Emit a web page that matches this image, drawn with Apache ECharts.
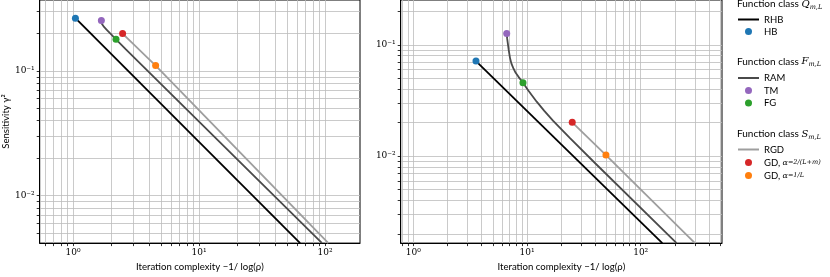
<!DOCTYPE html>
<html><head><meta charset="utf-8">
<script src="https://cdn.jsdelivr.net/npm/echarts@6/dist/echarts.min.js"></script>
<style>html,body{margin:0;padding:0;background:#fff}#c{width:830px;height:277px}</style>
</head><body><div id="c"></div>
<script>
// ---------- data (left panel) ----------
const leftRHB = [[1.043, 0.2656], [63.4, 0.00417]];
const leftHB  = [[1.043, 0.2656]];
const leftRAM = [[1.676, 0.254], [1.69, 0.240], [1.76, 0.226], [1.85, 0.2145], [1.97, 0.2005], [2.19, 0.180], [2.60, 0.151], [94.2, 0.00418]];
const leftTM  = [[1.676, 0.254]];
const leftFG  = [[2.19, 0.180]];
const leftRGD = [[2.47, 0.200], [4.52, 0.1108], [106.2, 0.00417]];
const leftGD1 = [[2.47, 0.200]];
const leftGD2 = [[4.52, 0.1108]];
// ---------- data (right panel) ----------
const rightRHB = [[3.56, 0.0714], [155, 0.00165]];
const rightHB  = [[3.56, 0.0714]];
const rightRAM = [[6.63, 0.1265], [6.70, 0.113], [6.77, 0.1047], [6.9, 0.0905], [7.08, 0.0767], [7.3, 0.0677], [7.58, 0.0617], [7.95, 0.0560], [8.39, 0.0518], [9.22, 0.04555], [10.27, 0.03885], [12.17, 0.03081], [14.2, 0.02549], [17.0, 0.02071], [23.9, 0.01448], [40.0, 0.008575], [207, 0.00165]];
const rightTM  = [[6.63, 0.1265]];
const rightFG  = [[9.22, 0.04555]];
const rightRGD = [[25.0, 0.0201], [49.5, 0.0102], [300, 0.00165]];
const rightGD1 = [[25.0, 0.0201]];
const rightGD2 = [[49.5, 0.0102]];
// ---------- ticks ----------
const xMajor = [1, 10, 100];
const yMajor = [0.01, 0.1];
const mantissas = [1, 2, 3, 4, 5, 6, 7, 8, 9];
const decadeExps = [-3, -2, -1, 0, 1, 2];
const allLogTicks = [];
decadeExps.forEach(e => mantissas.forEach(m => allLogTicks.push(+(m * Math.pow(10, e)).toPrecision(3))));

const legendNames = {
  RHB: 'RHB', HB: 'HB', RAM: 'RAM', TM: 'TM', FG: 'FG', RGD: 'RGD',
  GD1: '{t|GD, }{a|α}{f|=2/(L+m)}', GD2: '{t|GD, }{a|α}{f|=1/L}'
};

const SUP = {'-': '⁻', '0': '⁰', '1': '¹', '2': '²', '3': '³'};
function fmt(v) {
  const e = Math.round(Math.log10(v));
  return '10' + String(e).split('').map(c => SUP[c]).join('');
}

const C = {RHB: '#000000', RAM: '#4a4a4a', RGD: '#9e9e9e', HB: '#1f77b4', TM: '#9467bd', FG: '#2ca02c', GD1: '#d62728', GD2: '#ff7f0e'};
const gridCol = '#bdbdbd';
const nameFont = 'Lato';

function xAxis(gi, min, max) {
  return {
    type: 'log', logBase: 10, gridIndex: gi, min: min, max: max,
    axisLine: {show: true, lineStyle: {color: '#000', width: 1}},
    axisTick: {show: true, length: 3, customValues: allLogTicks.filter(v => v >= min && v <= max), lineStyle: {color: '#000', width: 0.8}},
    axisLabel: {customValues: xMajor.filter(v => v >= min && v <= max), formatter: fmt, fontFamily: 'DejaVu Serif', fontSize: 9, color: '#000', margin: 5},
    splitLine: {show: true, lineStyle: {color: gridCol, width: 0.8}},
    name: 'Iteration complexity −1/ log(ρ)', nameLocation: 'middle', nameGap: 18,
    nameTextStyle: {fontFamily: nameFont, fontSize: 9.6, color: '#000'}
  };
}
function yAxis(gi, min, max, withName) {
  return {
    type: 'log', logBase: 10, gridIndex: gi, min: min, max: max,
    axisLine: {show: true, lineStyle: {color: '#000', width: 1}},
    axisTick: {show: true, length: 3, customValues: allLogTicks.filter(v => v >= min && v <= max), lineStyle: {color: '#000', width: 0.8}},
    axisLabel: {customValues: yMajor.filter(v => v >= min && v <= max), formatter: fmt, fontFamily: 'DejaVu Serif', fontSize: 9, color: '#000', margin: 5},
    splitLine: {show: true, lineStyle: {color: gridCol, width: 0.8}},
    name: withName ? 'Sensitivity γ²' : '', nameLocation: 'middle', nameGap: 24, nameRotate: 90,
    nameTextStyle: {fontFamily: nameFont, fontSize: 9.6, color: '#000'}
  };
}

function lineS(name, data, gi) {
  return {type: 'line', name: name, data: data, xAxisIndex: gi, yAxisIndex: gi, showSymbol: false, symbol: 'none',
    lineStyle: {color: C[name], width: 1.8}, itemStyle: {color: C[name]}, z: 3, animation: false, clip: true};
}
function dotS(name, data, gi) {
  return {type: 'scatter', name: name, data: data, xAxisIndex: gi, yAxisIndex: gi, symbol: 'circle', symbolSize: 7,
    itemStyle: {color: C[name], opacity: 1}, z: 5, animation: false};
}

const legendText = {
  color: '#000', fontFamily: nameFont, fontSize: 9.5,
  rich: {
    t: {fontFamily: nameFont, fontSize: 9.5, color: '#000'},
    a: {fontFamily: 'DejaVu Serif', fontStyle: 'italic', fontSize: 8, color: '#000'},
    f: {fontFamily: 'DejaVu Serif', fontStyle: 'italic', fontSize: 6.5, color: '#000'}
  }
};
const lineNames = ['RHB', 'RAM', 'RGD'];
function legend(names, top, gap) {
  const data = names.map(n => lineNames.indexOf(n) >= 0
    ? {name: n, itemStyle: {color: 'rgba(0,0,0,0)', borderWidth: 0, opacity: 0}}
    : n);
  return {data: data, orient: 'vertical', left: 737, top: top, padding: 0, itemGap: gap,
    itemWidth: 21, itemHeight: 7, textStyle: legendText, formatter: n => legendNames[n], selectedMode: false};
}
function title(letter, y) {
  return {type: 'text', left: 737, top: y, style: {
    text: '{t|Function class }{q|' + letter + '}{s|m,L}',
    rich: {
      t: {fontFamily: nameFont, fontSize: 10, fill: '#000'},
      q: {fontFamily: 'DejaVu Serif', fontStyle: 'italic', fontSize: 10, fill: '#000'},
      s: {fontFamily: 'DejaVu Serif', fontStyle: 'italic', fontSize: 6.5, fill: '#000', padding: [6, 0, 0, 0]}
    }}};
}

const chart = echarts.init(document.getElementById('c'), null, {renderer: 'canvas'});
chart.setOption({
  animation: false,
  backgroundColor: '#fff',
  grid: [
    {left: 39.3, top: -2, width: 320.7, height: 249.7, show: true, borderColor: '#000', borderWidth: 1, backgroundColor: 'transparent'},
    {left: 400.7, top: -2, width: 321.3, height: 249.7, show: true, borderColor: '#000', borderWidth: 1, backgroundColor: 'transparent'}
  ],
  xAxis: [xAxis(0, 0.543, 189.4), xAxis(1, 0.775, 519)],
  yAxis: [yAxis(0, 0.00417, 0.3717, true), yAxis(1, 0.001652, 0.2527, false)],
  legend: [
    legend(['RHB', 'HB'], 14.5, 2),
    legend(['RAM', 'TM', 'FG'], 73, 2.5),
    legend(['RGD', 'GD1', 'GD2'], 144.5, 3)
  ],
  graphic: [title('Q', -1), title('F', 56.5), title('S', 129)],
  series: [
    lineS('RHB', leftRHB, 0), lineS('RAM', leftRAM, 0), lineS('RGD', leftRGD, 0),
    dotS('HB', leftHB, 0), dotS('TM', leftTM, 0), dotS('FG', leftFG, 0), dotS('GD1', leftGD1, 0), dotS('GD2', leftGD2, 0),
    lineS('RHB', rightRHB, 1), lineS('RAM', rightRAM, 1), lineS('RGD', rightRGD, 1),
    dotS('HB', rightHB, 1), dotS('TM', rightTM, 1), dotS('FG', rightFG, 1), dotS('GD1', rightGD1, 1), dotS('GD2', rightGD2, 1)
  ]
});
</script>
</body></html>
